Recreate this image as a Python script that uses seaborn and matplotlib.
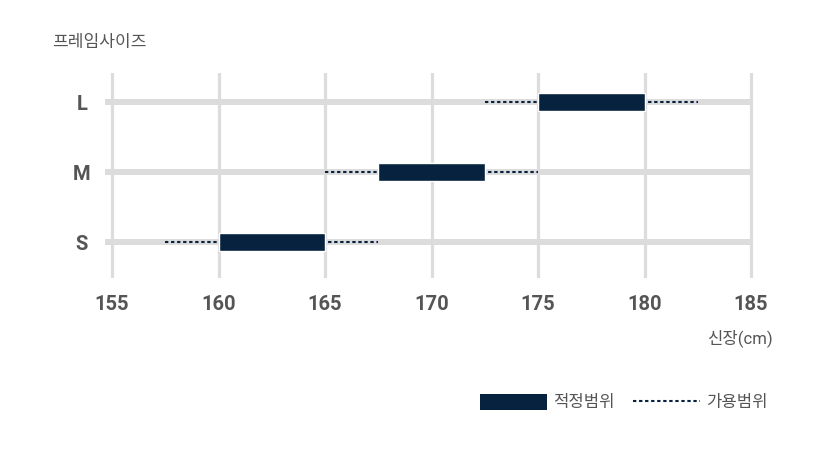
import matplotlib
matplotlib.use("Agg")
import matplotlib.pyplot as plt
from matplotlib.patches import Patch
from matplotlib.lines import Line2D
import seaborn as sns

# frame sizes and height ranges (cm)
sizes = ["S", "M", "L"]
fit_low = [160, 167.5, 175]
fit_high = [165, 172.5, 180]
use_low = [157.5, 165, 172.5]
use_high = [167.5, 175, 182.5]
x_ticks = [155, 160, 165, 170, 175, 180, 185]

navy = "#06223f"
grid_c = "#dcdcdc"
txt_c = "#555555"

sns.set_theme(style="white")
plt.rcParams["font.family"] = ["Roboto", "Noto Sans CJK KR", "DejaVu Sans"]

W, H = 825, 462
fig = plt.figure(figsize=(W / 100, H / 100), dpi=100)
# axes in pixel coords: left 100, right 765, top 73, bottom 278
ax = fig.add_axes([100 / W, 1 - 278 / H, 665 / W, 205 / H])
ppu = (751 - 112) / 30.0
ax.set_xlim(155 - 12 / ppu, 185 + 14 / ppu)
ax.set_ylim(-36 / 70, 2 + 29 / 70)

ypos = list(range(len(sizes)))

# grid lines
for xt in x_ticks:
    ax.axvline(xt, color=grid_c, lw=2.3, zorder=0)
ax.hlines(ypos, 155 - 7 / ppu, 185, color=grid_c, lw=4.3, zorder=1)

# usable range (dotted)
ax.hlines(ypos, use_low, use_high, color=navy, lw=1.5,
          linestyles=(0, (1.6, 1.3)), zorder=2)
# fitting range (solid bar)
ax.barh(ypos, [h - l for l, h in zip(fit_low, fit_high)], left=fit_low,
        height=0.27, color=navy, zorder=3)

ax.set_xticks(x_ticks)
ax.set_xticklabels([str(v) for v in x_ticks], fontsize=14.5, fontweight="bold", color=txt_c)
ax.set_yticks(ypos)
ax.set_yticklabels(sizes, fontsize=14.5, fontweight="bold", color=txt_c, ha="center")
ax.tick_params(axis="x", length=0, pad=12)
ax.tick_params(axis="y", length=0, pad=13)
sns.despine(ax=ax, left=True, bottom=True)

fig.text(52 / W, 1 - 43 / H, "프레임사이즈", fontsize=12.3, color=txt_c, va="center", ha="left")
fig.text(773 / W, 1 - 338 / H, "신장(cm)", fontsize=12, color=txt_c, va="center", ha="right")

handles = [Patch(facecolor=navy, edgecolor="none"),
           Line2D([0], [0], color=navy, lw=1.5, linestyle=(0, (1.6, 1.3)))]
fig.legend(handles, ["적정범위", "가용범위"], loc="center right",
           bbox_to_anchor=(768 / W, 1 - 402 / H), frameon=False, ncol=2,
           fontsize=12, labelcolor=txt_c, handlelength=4.0, handleheight=1.15,
           handletextpad=0.4, columnspacing=1.1, borderpad=0, borderaxespad=0)

fig.savefig("out.png", dpi=100)
